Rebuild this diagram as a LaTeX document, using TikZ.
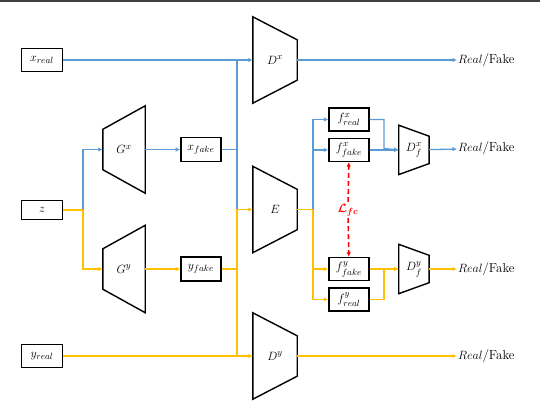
\documentclass[tikz,border=0pt]{standalone}
\usepackage{amsmath}
\usetikzlibrary{arrows.meta}
\usetikzlibrary{positioning}

\definecolor{xblue}{RGB}{91,155,213}
\definecolor{ygold}{RGB}{255,192,0}

\tikzset {
  flow path/.style = {
    line width = 1.3pt
  },
  % x domain paths (with and without arrow)
  xarr/.style = {
    flow path,
    draw = xblue,
    -{Latex[length = 4.5pt, width = 4.5pt]}
  },
  xnarr/.style = {
    flow path,
    draw = xblue
  },
  % y domain paths (with and without arrow)
  yarr/.style = {
    flow path,
    draw = ygold,
    -{Latex[length = 4.5pt, width = 4.5pt]}
  },
  ynarr/.style = {
    flow path,
    draw = ygold
  },
  % feature consistency loss
  lossarr/.style = {
    draw = red,
    line width = 1.6pt,
    dash pattern = on 5pt off 3pt,
    -{Latex[length = 4.5pt, width = 4.5pt]}
  }
}
\tikzset {
  trap line/.style = {
    draw = black,
    line width = 1.4pt,
    line join = miter
  },
  % data or feature box
  data/.style = {
    draw = black,
    line width = 1.4pt,
    rectangle,
    inner sep = 0,
    minimum width = 40pt,
    minimum height = 23pt
  },
  % trapezoid, short side on the left
  narrow left/.style = {
    inner sep = 0,
    append after command = {\pgfextra{
      \draw[trap line] (\tikzlastnode.north east) -- (\tikzlastnode.south east)
        -- ([yshift = #1]\tikzlastnode.south west)
        -- ([yshift = -#1]\tikzlastnode.north west) -- cycle;}}
  },
  % trapezoid, short side on the right
  narrow right/.style = {
    inner sep = 0,
    append after command = {\pgfextra{
      \draw[trap line] (\tikzlastnode.north west) -- (\tikzlastnode.south west)
        -- ([yshift = #1]\tikzlastnode.south east)
        -- ([yshift = -#1]\tikzlastnode.north east) -- cycle;}}
  },
  % generator
  gen/.style = {
    narrow left = 23.5pt,
    minimum width = 42pt,
    minimum height = 87pt
  },
  % discriminator / encoder
  disc/.style = {
    narrow right = 23pt,
    minimum width = 44pt,
    minimum height = 86pt
  },
  % feature discriminator
  fdisc/.style = {
    narrow right = 11pt,
    minimum width = 30pt,
    minimum height = 49pt
  },
  verdict/.style = {
    anchor = west,
    inner sep = 1pt
  },
  loss/.style = {
    text = red,
    inner sep = 2pt,
    font = \fontsize{13}{15}\selectfont\boldmath
  }
}

\begin{document}
\begin{tikzpicture}[x = 1pt, y = -1pt, font = \fontsize{13}{15}\selectfont]
    \useasboundingbox (0,0) rectangle (540,402);
    \draw[line width = 1.5pt, black!75] (0,1) -- (540,1);

    \node[data, minimum width = 41pt] (xreal) at (42,60) {$x_{real}$};
    \node[data, minimum width = 41pt, minimum height = 19pt] (z) at (42,210) {$z$};
    \node[data, minimum width = 41pt] (yreal) at (42,356) {$y_{real}$};

    \node[gen] (Gx) at (124,149.5) {$G^x$};
    \node[gen] (Gy) at (124,269) {$G^y$};
    \node[data, minimum height = 24pt] (xfake) [right = 35pt of Gx] {$x_{fake}$};
    \node[data, minimum height = 24pt] (yfake) [right = 35pt of Gy] {$y_{fake}$};

    \node[disc] (Dx) at (275,60) {$D^x$};
    \node[disc] (E) at (275,209.5) {$E$};
    \node[disc] (Dy) at (275,356) {$D^y$};

    \node[data] (fxreal) at (349,119.5) {$f^x_{real}$};
    \node[data] (fxfake) [below = 6pt of fxreal] {$f^x_{fake}$};
    \node[data] (fyfake) at (349,269) {$f^y_{fake}$};
    \node[data] (fyreal) [below = 6pt of fyfake] {$f^y_{real}$};

    \node[fdisc] (Dfx) [right = 29pt of fxfake] {$D^x_f$};
    \node[fdisc] (Dfy) [right = 29pt of fyfake] {$D^y_f$};

    \node[verdict] (outDx) at (457,60) {$Real$/Fake};
    \node[verdict] (outDfx) at (457,148.5) {$Real$/Fake};
    \node[verdict] (outDfy) at (457,269) {$Real$/Fake};
    \node[verdict] (outDy) at (457,356) {$Real$/Fake};

    \node[loss] (Lfc) at (348,210) {$\mathcal{L}_{fc}$};

    \coordinate (zfork) at (83,210);
    \coordinate (bus) at (237,209.5);
    \coordinate (efork) at (313,209.5);
    \coordinate (fxjoin) at (384,148.5);
    \coordinate (fyjoin) at (384,269);

    % x domain
    \draw[xarr] (xreal) -- (Dx);
    \draw[xarr] (zfork) |- (Gx);
    \draw[xarr] (Gx) -- (xfake);
    \draw[xnarr] (xfake.east) -| (bus |- Dx);
    \draw[xnarr] (xfake.east) -| (bus);
    \draw[xnarr] (E.east) -- (efork);
    \draw[xarr] (efork) |- (fxreal);
    \draw[xarr] (efork) |- (fxfake);
    \draw[xarr] (fxreal.east) -| (fxjoin) -- (Dfx.west);
    \draw[xarr] (fxfake) -- (Dfx);
    \draw[xarr] (Dfx) -- (outDfx);
    \draw[xarr] (Dx) -- (outDx);

    % y domain
    \draw[ynarr] (z) -- (zfork);
    \draw[yarr] (zfork) |- (Gy);
    \draw[yarr] (Gy) -- (yfake);
    \draw[ynarr] (yfake.east) -| (bus |- Dy);
    \draw[yarr] (yfake.east) -| (bus) -- (E);
    \draw[yarr] (yreal) -- (Dy);
    \draw[ynarr] (E.east) -- (efork);
    \draw[yarr] (efork) |- (fyfake);
    \draw[yarr] (efork) |- (fyreal);
    \draw[yarr] (fyreal.east) -| (fyjoin) -- (Dfy.west);
    \draw[yarr] (fyfake) -- (Dfy);
    \draw[yarr] (Dfy) -- (outDfy);
    \draw[yarr] (Dy) -- (outDy);

    % feature consistency
    \draw[lossarr] (Lfc) -- (fxfake);
    \draw[lossarr] (Lfc) -- (fyfake);
\end{tikzpicture}
\end{document}
